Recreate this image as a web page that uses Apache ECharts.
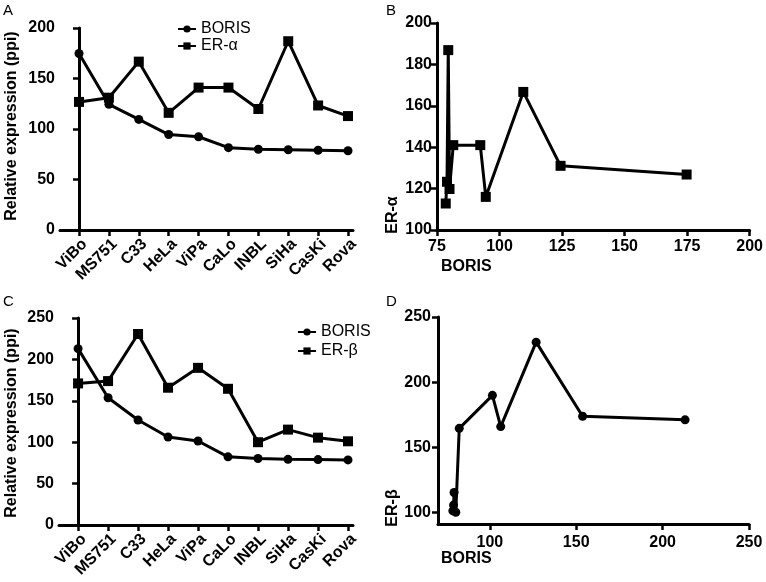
<!DOCTYPE html>
<html>
<head>
<meta charset="utf-8">
<script src="https://cdn.jsdelivr.net/npm/echarts@6/dist/echarts.min.js"></script>
<style>html,body{margin:0;padding:0;background:#fff}#c{width:766px;height:582px}</style>
</head>
<body>
<div id="c"></div>
<script>
// ---- data ----
const cellLines = ['ViBo','MS751','C33','HeLa','ViPa','CaLo','INBL','SiHa','CasKi','Rova'];
const borisA   = [174.8, 124.4, 109.5, 94.5, 92.3, 81.5, 80.0, 79.5, 79.0, 78.5];
const erAlpha  = [126.8, 131.0, 166.7, 116.0, 141.0, 141.0, 119.8, 186.9, 123.3, 112.8];
const borisC   = [213.0, 153.7, 126.8, 106.3, 101.5, 82.3, 80.3, 79.3, 79.0, 78.6];
const erBeta   = [171.0, 173.8, 230.7, 165.8, 189.8, 164.5, 100.0, 115.2, 105.5, 101.1];
const ticksAy  = [0, 50, 100, 150, 200];
const ticksBx  = [75, 100, 125, 150, 175, 200];
const ticksBy  = [100, 120, 140, 160, 180, 200];
const ticksCy  = [0, 50, 100, 150, 200, 250];
const ticksDx  = [100, 150, 200, 250];
const ticksDy  = [100, 150, 200, 250];

const FONT = 'Liberation Sans, Arial, Helvetica, sans-serif';
const chart = echarts.init(document.getElementById('c'));

const idx = cellLines.map((_, i) => i);
const axisLine = { show: true, lineStyle: { color: '#000', width: 3 } };
const axisTick = { show: true, length: 6, lineStyle: { color: '#000', width: 2.5 } };
const lab = { color: '#000', fontWeight: 'bold', fontSize: 16, fontFamily: FONT };

function catX(gi) {
  return {
    type: 'value', gridIndex: gi, min: -0.636, max: 9.167,
    axisLine, splitLine: { show: false },
    axisTick: Object.assign({}, axisTick, { customValues: idx }),
    axisLabel: Object.assign({}, lab, { customValues: idx, rotate: 45, margin: 6,
      verticalAlign: 'top', formatter: v => cellLines[Math.round(v)] })
  };
}
function valAxis(gi, min, max, ticks, margin) {
  return {
    type: 'value', gridIndex: gi, min, max,
    axisLine, splitLine: { show: false },
    axisTick: Object.assign({}, axisTick, { customValues: ticks }),
    axisLabel: Object.assign({}, lab, { customValues: ticks, margin: margin })
  };
}
const lineStyle = { color: '#000', width: 3 };
function ser(name, xi, yi, data, symbol, size) {
  return { type: 'line', name, xAxisIndex: xi, yAxisIndex: yi, data,
    symbol, symbolSize: size, showSymbol: true, lineStyle,
    itemStyle: { color: '#000', borderWidth: 0 }, animation: false, z: 3 };
}

const option = {
  backgroundColor: '#fff',
  animation: false,
  grid: [
    { left: 60, top: 28, width: 293, height: 202 },
    { left: 437, top: 23, width: 313, height: 207 },
    { left: 59, top: 318, width: 294, height: 207 },
    { left: 438, top: 317, width: 311, height: 207 }
  ],
  xAxis: [
    catX(0),
    valAxis(1, 75, 200, ticksBx, 9),
    catX(2),
    valAxis(3, 70, 250, ticksDx, 11)
  ],
  yAxis: [
    valAxis(0, 0, 200, ticksAy, 5),
    valAxis(1, 100, 200, ticksBy, 5),
    valAxis(2, 0, 250, ticksCy, 5),
    valAxis(3, 91, 250, ticksDy, 7)
  ],
  legend: [
    { data: ['BORIS', 'ER-α'], orient: 'vertical', left: 172, top: 16, itemWidth: 18, itemHeight: 9, itemGap: 1,
      textStyle: { fontSize: 16, color: '#000', fontFamily: FONT } },
    { data: ['BORIS', 'ER-β'], orient: 'vertical', left: 292, top: 319, itemWidth: 18, itemHeight: 9, itemGap: 3,
      textStyle: { fontSize: 16, color: '#000', fontFamily: FONT } }
  ],
  series: [
    ser('BORIS', 0, 0, idx.map(i => [i, borisA[i]]), 'circle', 9),
    ser('ER-α', 0, 0, idx.map(i => [i, erAlpha[i]]), 'rect', 10),
    ser('ER-α vs BORIS', 1, 1, idx.map(i => [borisA[i], erAlpha[i]]), 'rect', 10),
    ser('BORIS', 2, 2, idx.map(i => [i, borisC[i]]), 'circle', 9),
    ser('ER-β', 2, 2, idx.map(i => [i, erBeta[i]]), 'rect', 10),
    ser('ER-β vs BORIS', 3, 3, idx.map(i => [borisC[i], erBeta[i]]), 'circle', 9)
  ],
  graphic: [
    { type: 'text', left: 3, top: 3, style: { text: 'A', fontSize: 15, fill: '#000', fontFamily: FONT } },
    { type: 'text', left: 386, top: 3, style: { text: 'B', fontSize: 15, fill: '#000', fontFamily: FONT } },
    { type: 'text', left: 3, top: 294, style: { text: 'C', fontSize: 15, fill: '#000', fontFamily: FONT } },
    { type: 'text', left: 386, top: 294, style: { text: 'D', fontSize: 15, fill: '#000', fontFamily: FONT } },
    { type: 'text', x: 12, y: 126, rotation: Math.PI / 2,
      style: { text: 'Relative expression (ppi)', fontSize: 16, fontWeight: 'bold', fill: '#000', fontFamily: FONT, align: 'center', verticalAlign: 'middle' } },
    { type: 'text', x: 12, y: 423, rotation: Math.PI / 2,
      style: { text: 'Relative expression (ppi)', fontSize: 16, fontWeight: 'bold', fill: '#000', fontFamily: FONT, align: 'center', verticalAlign: 'middle' } },
    { type: 'text', x: 393, y: 215, rotation: Math.PI / 2,
      style: { text: 'ER-α', fontSize: 16, fontWeight: 'bold', fill: '#000', fontFamily: FONT, align: 'center', verticalAlign: 'middle' } },
    { type: 'text', x: 393, y: 508, rotation: Math.PI / 2,
      style: { text: 'ER-β', fontSize: 16, fontWeight: 'bold', fill: '#000', fontFamily: FONT, align: 'center', verticalAlign: 'middle' } },
    { type: 'text', x: 441, y: 267,
      style: { text: 'BORIS', fontSize: 16, fontWeight: 'bold', fill: '#000', fontFamily: FONT, align: 'left', verticalAlign: 'middle' } },
    { type: 'text', x: 441, y: 559,
      style: { text: 'BORIS', fontSize: 16, fontWeight: 'bold', fill: '#000', fontFamily: FONT, align: 'left', verticalAlign: 'middle' } }
  ]
};
chart.setOption(option);
</script>
</body>
</html>
